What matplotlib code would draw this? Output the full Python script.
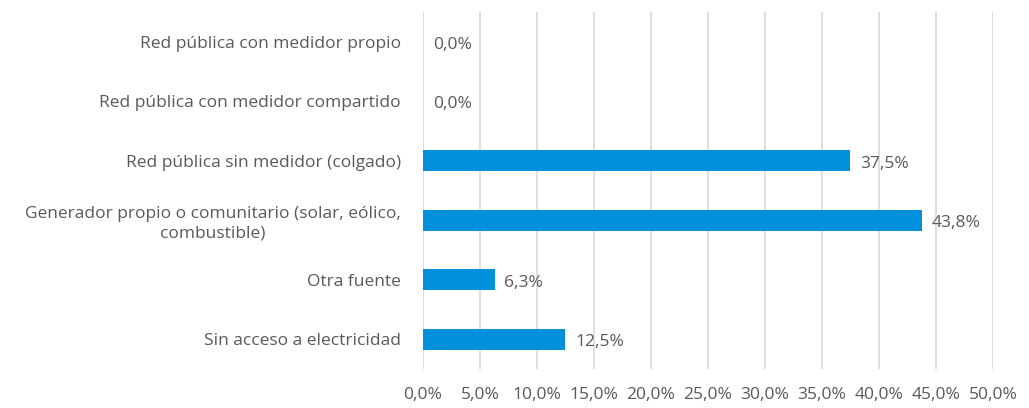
import matplotlib.pyplot as plt
from matplotlib.ticker import FuncFormatter

categories = [
    "Red pública con medidor propio",
    "Red pública con medidor compartido",
    "Red pública sin medidor (colgado)",
    "Generador propio o comunitario (solar, eólico,\ncombustible)",
    "Otra fuente",
    "Sin acceso a electricidad",
]
values = [0.0, 0.0, 37.5, 43.8, 6.3, 12.5]
xticks = [0, 5, 10, 15, 20, 25, 30, 35, 40, 45, 50]

BAR = "#0090DC"
TXT = "#595959"
GRID = "#D9D9D9"

plt.rcParams["font.family"] = ["Open Sans", "DejaVu Sans"]
FS = 12.5

fig = plt.figure(figsize=(10.29, 4.08), dpi=100)
ax = fig.add_axes([0.411, 0.0956, 0.554, 0.875])

ypos = list(range(len(categories)))
ax.barh(ypos, values, height=0.35, color=BAR, zorder=3)

for y, v in zip(ypos, values):
    lbl = f"{v:.1f}%".replace(".", ",")
    ax.annotate(lbl, (v, y), xytext=(7, -2), textcoords="offset points",
                ha="left", va="center", fontsize=FS, color=TXT)

ax.set_xlim(0, 50)
ax.set_ylim(len(categories) - 0.5, -0.5)
ax.set_xticks(xticks)
ax.xaxis.set_major_formatter(FuncFormatter(lambda x, _: f"{x:.1f}%".replace(".", ",")))
ax.set_yticks(ypos)
ax.set_yticklabels(categories, multialignment="center", linespacing=1.3)
ax.tick_params(axis="both", length=0, labelsize=FS, labelcolor=TXT)
ax.tick_params(axis="y", pad=16)
ax.tick_params(axis="x", pad=13)
ax.grid(axis="x", color=GRID, linewidth=1.2, zorder=0)
for s in ax.spines.values():
    s.set_visible(False)

fig.savefig("out.png", dpi=100, facecolor="white")
